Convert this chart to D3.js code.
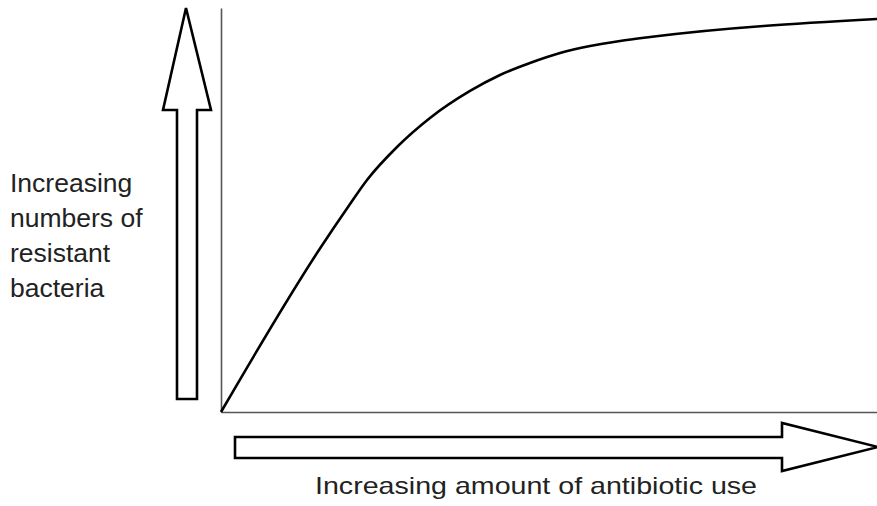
<!DOCTYPE html>
<html><head><meta charset="utf-8">
<script src="https://cdn.jsdelivr.net/npm/d3@7"></script>
<style>body{margin:0;background:#fff}svg{display:block}</style>
</head><body>
<svg id="c" width="877" height="506"></svg>
<script>
const antibioticUse = [0, 15.24, 19.36, 22.26, 26.83, 31.86, 37.96, 42.53, 47.10, 51.68, 56.25, 60.82, 65.40, 100];
const resistantBacteria = [0, 40.84, 50.74, 57.43, 65.59, 72.77, 79.46, 83.42, 86.39, 88.86, 90.59, 91.83, 92.82, 97.28];
const yLabelLines = ["Increasing", "numbers of", "resistant", "bacteria"];
const xLabel = "Increasing amount of antibiotic use";

const svg = d3.select("#c");
const x = d3.scaleLinear().domain([0, 100]).range([221, 877]);
const y = d3.scaleLinear().domain([0, 100]).range([412, 8]);

// axes (no ticks)
svg.append("g").attr("transform", "translate(0,412)")
  .call(d3.axisBottom(x).ticks(0).tickSizeOuter(0));
svg.append("g").attr("transform", "translate(221,0)")
  .call(d3.axisLeft(y).ticks(0).tickSizeOuter(0));
svg.selectAll(".domain").attr("stroke", "#555").attr("stroke-width", 1.6);

// curve
const pts = antibioticUse.map((v, i) => [v, resistantBacteria[i]]);
svg.append("path")
  .datum(pts)
  .attr("fill", "none")
  .attr("stroke", "#000")
  .attr("stroke-width", 2.6)
  .attr("stroke-linejoin", "round")
  .attr("d", d3.line().x(d => x(d[0])).y(d => y(d[1])).curve(d3.curveMonotoneX));

// up arrow
const up = [[177,399],[197,399],[197,110],[211,110],[186,8],[163,110],[177,110]];
svg.append("path").attr("d", "M" + up.join("L") + "Z")
  .attr("fill", "#fff").attr("stroke", "#000").attr("stroke-width", 2.6).attr("stroke-linejoin", "miter");

// right arrow
const rt = [[235,437],[782,437],[782,423],[878,447],[782,471],[782,458],[235,458]];
svg.append("path").attr("d", "M" + rt.join("L") + "Z")
  .attr("fill", "#fff").attr("stroke", "#000").attr("stroke-width", 2.6).attr("stroke-linejoin", "miter");

// labels
const font = "'Liberation Sans', Arial, Helvetica, sans-serif";
const yl = svg.append("text").attr("font-family", font).attr("font-size", 26.5).attr("fill", "#222");
const baselines = [192, 227, 262, 297];
yLabelLines.forEach((t, i) => yl.append("tspan").attr("x", 10).attr("y", baselines[i]).text(t));

svg.append("text").attr("x", 315).attr("y", 494)
  .attr("textLength", 442).attr("lengthAdjust", "spacingAndGlyphs")
  .attr("font-family", font).attr("font-size", 24).attr("fill", "#222").text(xLabel);
</script>
</body></html>
